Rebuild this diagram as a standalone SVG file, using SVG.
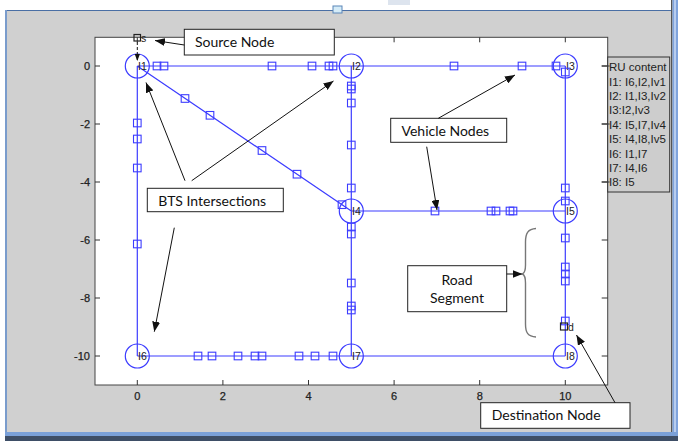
<svg xmlns="http://www.w3.org/2000/svg" xmlns:xlink="http://www.w3.org/1999/xlink" width="678" height="441" viewBox="0 0 678 441">
<style>
.road{stroke:#3c3cff;stroke-width:1.2;fill:none}
.v{stroke:#3c3cff;stroke-width:1.1;fill:none}
.ic{stroke:#3c3cff;stroke-width:1.2;fill:none}
.il{font-family:"Liberation Sans",Arial,sans-serif;font-size:10.5px;fill:#222}
.ax{font-family:"Liberation Sans",Arial,sans-serif;font-size:11px;fill:#222;stroke:#222;stroke-width:0.25}
.tk{stroke:#333;stroke-width:1}
.box{fill:#fff;stroke:#222;stroke-width:1}
.bt{font-family:Lato,"Open Sans",sans-serif;font-size:14px;fill:#111}
.ar{stroke:#111;stroke-width:1;fill:none;marker-end:url(#ah)}
.lg{font-family:"Liberation Sans",Arial,sans-serif;font-size:11.5px;fill:#222}
</style>
<defs>
<marker id="ah" viewBox="0 0 10 8" refX="10" refY="4" markerWidth="10" markerHeight="8" markerUnits="userSpaceOnUse" orient="auto"><path d="M0,0 L10,4 L0,8 z" fill="#111"/></marker>
<marker id="ah2" viewBox="0 0 8 6" refX="8" refY="3" markerWidth="7" markerHeight="6" markerUnits="userSpaceOnUse" orient="auto"><path d="M0,0 L8,3 L0,6 z" fill="#111"/></marker>
<rect id="sq" x="-3.8" y="-3.8" width="7.6" height="7.6" class="v"/>
</defs>
<!-- window frame -->
<rect x="0" y="0" width="678" height="441" fill="#fff"/>
<rect x="7" y="10" width="665" height="424" fill="#d0d0d0"/>
<rect x="388" y="0" width="22" height="5" fill="#dde4ee"/>
<line x1="5" y1="10.5" x2="672" y2="10.5" stroke="#4a6fa5" stroke-width="1.2"/>
<rect x="5" y="10" width="2" height="424" fill="#7a9ccc"/>
<rect x="333" y="6" width="9" height="7" fill="#d5ecf8" stroke="#5a86b8" stroke-width="1"/>
<rect x="671" y="0" width="1.5" height="436" fill="#555"/>
<rect x="672.5" y="0" width="5.5" height="436" fill="#7fa3dc"/>
<rect x="674" y="0" width="2" height="436" fill="#b8cdee"/>
<rect x="5" y="432" width="673" height="4" fill="#7aa0d8"/>
<rect x="5" y="436" width="673" height="5" fill="#3e4e66"/>
<!-- axes -->
<g id="axes">
<rect x="95" y="37.3" width="512.7" height="347.7" fill="#fff" stroke="#444" stroke-width="1"/>
<g class="tk">
<path d="M137.3,385v-5M222.9,385v-5M308.5,385v-5M394.1,385v-5M479.7,385v-5M565.3,385v-5"/>
<path d="M137.3,37.3v5M222.9,37.3v5M308.5,37.3v5M394.1,37.3v5M479.7,37.3v5M565.3,37.3v5"/>
<path d="M95,66h5M95,124h5M95,182h5M95,240h5M95,298h5M95,356h5"/>
<path d="M607.7,66h-6M607.7,124h-6M607.7,182h-6M607.7,240h-6M607.7,298h-6M607.7,356h-6"/>
</g>
<g class="ax" text-anchor="middle">
<text x="137.3" y="400">0</text><text x="222.9" y="400">2</text><text x="308.5" y="400">4</text>
<text x="394.1" y="400">6</text><text x="479.7" y="400">8</text><text x="565.3" y="400">10</text>
</g>
<g class="ax" text-anchor="end">
<text x="90" y="70">0</text><text x="90" y="128">-2</text><text x="90" y="186">-4</text>
<text x="90" y="244">-6</text><text x="90" y="302">-8</text><text x="90" y="360">-10</text>
</g>
</g>
<!-- roads -->
<g id="connectors">
<path class="road" d="M137.3,66H565.3M137.3,66V356M351.3,66V356M565.3,66V356M351.3,211H565.3M137.3,356H565.3M137.3,66L351.3,211"/>
</g>
<!-- intersections -->
<g id="I1"><circle class="ic" cx="137.3" cy="66" r="12"/><text class="il" x="138" y="70">I1</text></g>
<g id="I2"><circle class="ic" cx="351.3" cy="66" r="12"/><text class="il" x="352" y="70">I2</text></g>
<g id="I3"><circle class="ic" cx="565.3" cy="66" r="12"/><text class="il" x="566" y="70">I3</text></g>
<g id="I4"><circle class="ic" cx="351.3" cy="211" r="12"/><text class="il" x="352" y="215">I4</text></g>
<g id="I5"><circle class="ic" cx="565.3" cy="211" r="12"/><text class="il" x="566" y="215">I5</text></g>
<g id="I6"><circle class="ic" cx="137.3" cy="356" r="12"/><text class="il" x="138" y="360">I6</text></g>
<g id="I7"><circle class="ic" cx="351.3" cy="356" r="12"/><text class="il" x="352" y="360">I7</text></g>
<g id="I8"><circle class="ic" cx="565.3" cy="356" r="12"/><text class="il" x="566" y="360">I8</text></g>
<!-- vehicles -->
<g id="vehicles">
<use href="#sq" x="157" y="66"/><use href="#sq" x="164" y="66"/><use href="#sq" x="272" y="66"/><use href="#sq" x="312" y="66"/><use href="#sq" x="329" y="66"/><use href="#sq" x="333" y="66"/><use href="#sq" x="454" y="66"/><use href="#sq" x="522" y="66"/><use href="#sq" x="556" y="66"/>
<use href="#sq" x="565.3" y="72"/><use href="#sq" x="565.3" y="188"/><use href="#sq" x="565.3" y="201"/><use href="#sq" x="565.3" y="238"/><use href="#sq" x="565.3" y="267"/><use href="#sq" x="565.3" y="274"/><use href="#sq" x="565.3" y="281"/><use href="#sq" x="565.3" y="321"/>
<use href="#sq" x="351.3" y="86"/><use href="#sq" x="351.3" y="89"/><use href="#sq" x="351.3" y="103"/><use href="#sq" x="351.3" y="145"/><use href="#sq" x="351.3" y="188"/><use href="#sq" x="351.3" y="227"/><use href="#sq" x="351.3" y="234"/><use href="#sq" x="351.3" y="283"/><use href="#sq" x="351.3" y="306"/><use href="#sq" x="351.3" y="310"/>
<use href="#sq" x="137.3" y="123"/><use href="#sq" x="137.3" y="139"/><use href="#sq" x="137.3" y="168"/><use href="#sq" x="137.3" y="244"/>
<use href="#sq" x="185" y="98.5"/><use href="#sq" x="210" y="115.3"/><use href="#sq" x="262" y="150.5"/><use href="#sq" x="297" y="174.2"/><use href="#sq" x="342" y="204.7"/>
<use href="#sq" x="435" y="211"/><use href="#sq" x="491" y="211"/><use href="#sq" x="496" y="211"/><use href="#sq" x="510" y="211"/><use href="#sq" x="513" y="211"/>
<use href="#sq" x="198" y="356"/><use href="#sq" x="212" y="356"/><use href="#sq" x="238" y="356"/><use href="#sq" x="255" y="356"/><use href="#sq" x="262" y="356"/><use href="#sq" x="299" y="356"/><use href="#sq" x="315" y="356"/><use href="#sq" x="333" y="356"/>
</g>
<!-- source & destination -->
<g id="source">
<rect x="134" y="34.5" width="6.5" height="6.5" fill="none" stroke="#222" stroke-width="1.2"/>
<text class="il" x="141" y="41.5">s</text>
<line x1="137.3" y1="42" x2="137.3" y2="61" stroke="#111" stroke-width="1" stroke-dasharray="3,2" marker-end="url(#ah2)"/>
</g>
<g id="destination">
<rect x="560.5" y="323" width="7" height="7" fill="none" stroke="#222" stroke-width="1.2"/>
<text class="il" x="568" y="330.5">d</text>
</g>
<!-- legend -->
<g id="legend">
<rect x="607.7" y="57" width="62" height="135" fill="#cdcdcd" stroke="#333" stroke-width="1"/>
<path class="tk" d="M601.7,66h8M601.7,124h8M601.7,182h8"/>
<g class="lg">
<text x="609" y="70.5">RU content</text>
<text x="609" y="85.5">I1: I6,I2,Iv1</text>
<text x="609" y="99.5">I2: I1,I3,Iv2</text>
<text x="609" y="114">I3:I2,Iv3</text>
<text x="609" y="129">I4: I5,I7,Iv4</text>
<text x="609" y="143">I5: I4,I8,Iv5</text>
<text x="609" y="157.5">I6: I1,I7</text>
<text x="609" y="172">I7: I4,I6</text>
<text x="609" y="186">I8: I5</text>
</g>
</g>
<!-- annotations -->
<g id="source-label">
<rect class="box" x="184.3" y="29.3" width="150" height="25.7"/>
<text class="bt" x="195" y="47" font-size="15">Source Node</text>
</g>
<g id="vehicle-label">
<rect class="box" x="390.7" y="118.3" width="116" height="24"/>
<text class="bt" x="401.5" y="136" font-size="13">Vehicle Nodes</text>
</g>
<g id="bts-label">
<rect class="box" x="147.3" y="188.3" width="136" height="23.4"/>
<text class="bt" x="158.3" y="205.5" font-size="12.5">BTS Intersections</text>
</g>
<g id="road-label">
<rect class="box" x="407.7" y="265.7" width="99" height="46"/>
<text class="bt" x="457" y="285" text-anchor="middle">Road</text>
<text class="bt" x="457" y="302.7" text-anchor="middle">Segment</text>
</g>
<g id="dest-label">
<rect class="box" x="480.7" y="402.7" width="149.3" height="25.6"/>
<text class="bt" x="491.7" y="420" font-size="15">Destination Node</text>
</g>
<g id="annotation-arrows">
<line class="ar" x1="184.3" y1="45" x2="155" y2="40.5"/>
<line class="ar" x1="438.3" y1="118.3" x2="515" y2="75"/>
<line class="ar" x1="426.7" y1="146.7" x2="437" y2="210"/>
<line class="ar" x1="185" y1="180.7" x2="146" y2="82.5"/>
<line class="ar" x1="191.7" y1="180.7" x2="333.5" y2="81"/>
<line class="ar" x1="174.3" y1="227.7" x2="154.3" y2="331.7"/>
<line class="ar" x1="506.7" y1="274" x2="522.5" y2="274"/>
<line class="ar" x1="615" y1="402.7" x2="576.5" y2="335"/>
<path d="M536,228.5 C528,229 525.5,233 525.5,242 L525.5,265 C525.5,270 524.5,273 522.5,274 C524.5,275 525.5,278 525.5,283 L525.5,324 C525.5,333 528,336.5 536,337" fill="none" stroke="#777" stroke-width="1.4"/>
</g>
</svg>
